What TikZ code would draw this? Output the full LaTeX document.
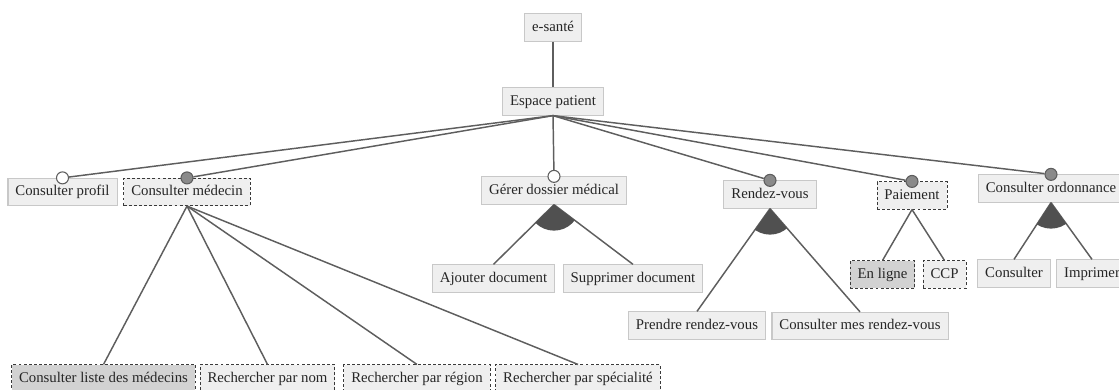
\documentclass[tikz,border=0pt]{standalone}
\usepackage{fontspec}
\setmainfont{Liberation Serif}
\usetikzlibrary{calc}
\definecolor{boxfill}{HTML}{EFEFEF}
\definecolor{boxdark}{HTML}{D2D2D2}
\definecolor{boxline}{HTML}{C8C8C8}
\definecolor{dashline}{HTML}{3A3A3A}
\definecolor{conncol}{HTML}{5E5E5E}
\definecolor{dotfill}{HTML}{8A8A8A}
\definecolor{arcfill}{HTML}{505050}
\tikzset{
  feat/.style={draw=boxline, fill=boxfill, line width=0.8pt, inner xsep=5.6pt, inner ysep=0pt,
    text height=8pt, text depth=2.6pt, minimum height=20.4pt,
    font=\fontsize{11.1}{13}\selectfont, text=black!85},
  optfeat/.style={feat, draw=dashline, dash pattern=on 2.2pt off 1.6pt, line width=0.7pt},
  darkfeat/.style={fill=boxdark},
  conn/.style={draw=conncol, line width=1.1pt},
  opendot/.style={circle, draw=conncol, fill=white, line width=0.8pt, inner sep=0pt, minimum size=9pt},
  fulldot/.style={circle, draw=conncol, fill=dotfill, line width=0.8pt, inner sep=0pt, minimum size=9pt},
}
\begin{document}
\begin{tikzpicture}[x=0.75pt, y=-0.75pt]
\useasboundingbox (0,0) rectangle (1119,389);
% nodes
\node[feat] (esante) at (553,27.5) {e-santé};
\node[feat] (espace) at (553,101.5) {Espace patient};
\node[feat] (cprofil) at (62.5,192) {Consulter profil};
\node[optfeat] (cmed) at (187,192) {Consulter médecin};
\node[feat] (gerer) at (554,190.5) {Gérer dossier médical};
\node[feat] (rdv) at (770,194.5) {Rendez-vous};
\node[optfeat] (paie) at (912,195.5) {Paiement};
\node[feat] (cord) at (1051,188.5) {Consulter ordonnance};
\node[feat] (ajout) at (493.5,278.5) {Ajouter document};
\node[feat] (suppr) at (633,278.5) {Supprimer document};
\node[feat] (prendre) at (697,325.5) {Prendre rendez-vous};
\node[feat] (cmes) at (860,326) {Consulter mes rendez-vous};
\node[optfeat, darkfeat] (enligne) at (882.5,274.5) {En ligne};
\node[optfeat] (ccp) at (944.5,274.5) {CCP};
\node[feat] (consulter) at (1014,273.5) {Consulter};
\node[feat] (imprimer) at (1092,273.5) {Imprimer};
\node[optfeat, darkfeat] (liste) at (103.5,378.5) {Consulter liste des médecins};
\node[optfeat] (nom) at (267.5,378.5) {Rechercher par nom};
\node[optfeat] (region) at (417,378.5) {Rechercher par région};
\node[optfeat] (spec) at (578,378.5) {Rechercher par spécialité};
% dots
\node[opendot] (d1) at (cprofil.north) {};
\node[fulldot] (d2) at (cmed.north) {};
\node[opendot] (d3) at (gerer.north) {};
\node[fulldot] (d4) at (rdv.north) {};
\node[fulldot] (d5) at (paie.north) {};
\node[fulldot] (d6) at (cord.north) {};
% connectors
\draw[conn] (esante) -- (espace);
\foreach \d in {d1,d2,d3,d4,d5,d6} \draw[conn] (espace.south) -- (\d);
\foreach \p/\c in {gerer/ajout, gerer/suppr, rdv/prendre, rdv/cmes, paie/enligne, paie/ccp,
                   cord/consulter, cord/imprimer, cmed/liste, cmed/nom, cmed/region, cmed/spec}
  \draw[conn] (\p.south) -- (\c.north);
% and-group sectors
\foreach \p/\a/\b in {gerer/ajout/suppr, rdv/prendre/cmes, cord/consulter/imprimer}{
  \begin{scope}
    \clip (\p.south) -- ($(\p.south)!60pt!(\a.north)$) -- ($(\p.south)!60pt!(\b.north)$) -- cycle;
    \fill[arcfill] (\p.south) circle (19.5pt);
  \end{scope}
}
\end{tikzpicture}
\end{document}
